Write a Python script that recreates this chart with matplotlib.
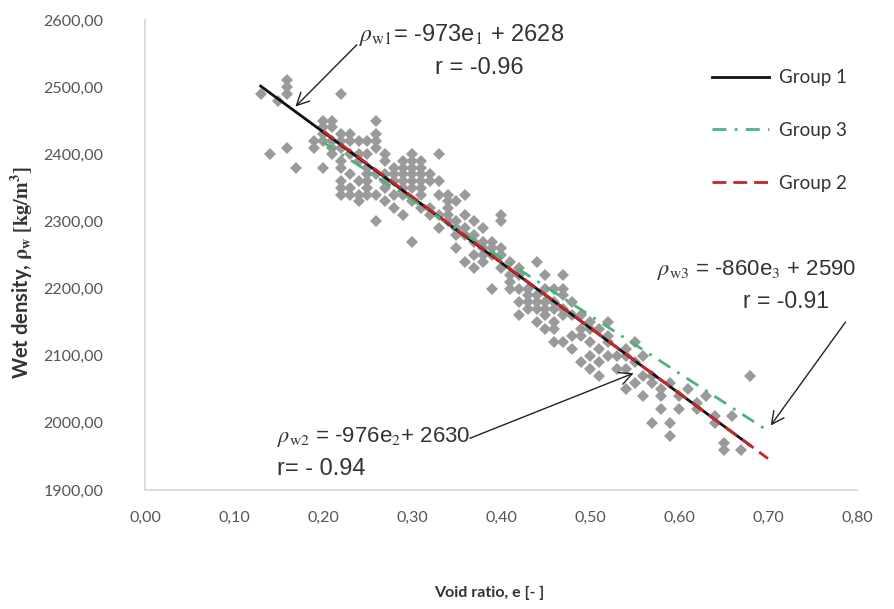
import matplotlib
matplotlib.use("Agg")
import matplotlib.pyplot as plt
import numpy as np

plt.rcParams['font.family'] = ['Lato', 'DejaVu Sans']
plt.rcParams['mathtext.fontset'] = 'stix'
plt.rcParams['lines.scale_dashes'] = False

# ---- scatter data (void ratio e, wet density) ----
void_ratio = [
    0.13, 0.14, 0.15, 0.16, 0.16, 0.16, 0.16, 0.17,
    0.19, 0.19,
    0.20, 0.20, 0.20, 0.20, 0.20,
    0.21, 0.21, 0.21, 0.21, 0.21,
    0.22, 0.22, 0.22, 0.22, 0.22, 0.22, 0.22, 0.22, 0.22,
    0.23, 0.23, 0.23, 0.23, 0.23, 0.23,
    0.24, 0.24, 0.24, 0.24, 0.24, 0.24,
    0.25, 0.25, 0.25, 0.25, 0.25, 0.25, 0.25,
    0.26, 0.26, 0.26, 0.26, 0.26, 0.26, 0.26,
    0.27, 0.27, 0.27, 0.27, 0.27, 0.27,
    0.28, 0.28, 0.28, 0.28, 0.28,
    0.29, 0.29, 0.29, 0.29, 0.29, 0.29, 0.29,
    0.30, 0.30, 0.30, 0.30, 0.30, 0.30, 0.30, 0.30,
    0.31, 0.31, 0.31, 0.31, 0.31, 0.31, 0.31,
    0.32, 0.32, 0.32, 0.32,
    0.33, 0.33, 0.33, 0.33, 0.33,
    0.34, 0.34, 0.34, 0.34, 0.34,
    0.35, 0.35, 0.35, 0.35, 0.35,
    0.36, 0.36, 0.36, 0.36, 0.36,
    0.37, 0.37, 0.37, 0.37, 0.37,
    0.38, 0.38, 0.38, 0.38, 0.38,
    0.39, 0.39, 0.39, 0.39,
    0.40, 0.40, 0.40, 0.40, 0.40,
    0.41, 0.41, 0.41, 0.41,
    0.42, 0.42, 0.42, 0.42, 0.42,
    0.43, 0.43, 0.43, 0.43,
    0.44, 0.44, 0.44, 0.44, 0.44,
    0.45, 0.45, 0.45, 0.45, 0.45, 0.45,
    0.46, 0.46, 0.46, 0.46, 0.46, 0.46,
    0.47, 0.47, 0.47, 0.47, 0.47, 0.47,
    0.48, 0.48, 0.48, 0.48,
    0.49, 0.49, 0.49, 0.49,
    0.50, 0.50, 0.50, 0.50, 0.50,
    0.51, 0.51, 0.51, 0.51,
    0.52, 0.52, 0.52, 0.52,
    0.53, 0.53,
    0.54, 0.54, 0.54, 0.54,
    0.55, 0.55, 0.55,
    0.56, 0.56, 0.56,
    0.57, 0.57, 0.57,
    0.58, 0.58, 0.58,
    0.59, 0.59, 0.59,
    0.60, 0.60,
    0.61,
    0.62, 0.62,
    0.63,
    0.64, 0.64,
    0.65, 0.65,
    0.66,
    0.67,
    0.68,
]
wet_density = [
    2490, 2400, 2480, 2510, 2500, 2490, 2410, 2380,
    2420, 2410,
    2450, 2440, 2430, 2420, 2380,
    2450, 2440, 2420, 2410, 2400,
    2490, 2430, 2420, 2410, 2390, 2380, 2360, 2350, 2340,
    2430, 2420, 2400, 2370, 2350, 2340,
    2420, 2400, 2390, 2360, 2340, 2330,
    2420, 2400, 2380, 2370, 2360, 2350, 2340,
    2450, 2430, 2420, 2410, 2370, 2340, 2300,
    2400, 2390, 2370, 2360, 2350, 2330,
    2380, 2370, 2360, 2340, 2320,
    2390, 2380, 2370, 2360, 2350, 2340, 2310,
    2400, 2390, 2380, 2370, 2360, 2350, 2330, 2270,
    2390, 2380, 2370, 2360, 2350, 2340, 2320,
    2370, 2360, 2320, 2310,
    2400, 2360, 2340, 2310, 2290,
    2340, 2330, 2320, 2310, 2300,
    2330, 2300, 2290, 2280, 2260,
    2340, 2310, 2290, 2280, 2240,
    2300, 2280, 2270, 2250, 2230,
    2290, 2270, 2260, 2250, 2240,
    2270, 2260, 2250, 2200,
    2310, 2300, 2260, 2250, 2230,
    2240, 2220, 2210, 2200,
    2230, 2220, 2200, 2180, 2160,
    2200, 2190, 2180, 2170,
    2240, 2190, 2180, 2170, 2150,
    2220, 2200, 2180, 2170, 2160, 2140,
    2200, 2180, 2170, 2150, 2140, 2120,
    2220, 2200, 2190, 2170, 2160, 2120,
    2180, 2160, 2130, 2110,
    2160, 2140, 2130, 2090,
    2150, 2140, 2120, 2100, 2080,
    2140, 2110, 2090, 2070,
    2150, 2130, 2120, 2100,
    2100, 2080,
    2110, 2100, 2080, 2050,
    2120, 2090, 2060,
    2100, 2070, 2040,
    2070, 2060, 2000,
    2050, 2040, 2020,
    2060, 2000, 1980,
    2040, 2020,
    2050,
    2030, 2020,
    2040,
    2010, 2000,
    1960, 1970,
    2010,
    1960,
    2070,
]

# ---- regression lines: rho = slope * e + intercept ----
group_names = ['Group 1', 'Group 3', 'Group 2']
group_slopes = [-973, -860, -976]
group_intercepts = [2628, 2590, 2630]
group_e_start = [0.13, 0.20, 0.20]
group_e_end = [0.68, 0.695, 0.70]

x_ticks = [0.0, 0.1, 0.2, 0.3, 0.4, 0.5, 0.6, 0.7, 0.8]
y_ticks = [1900, 2000, 2100, 2200, 2300, 2400, 2500, 2600]

fig = plt.figure(figsize=(8.95, 6.09), dpi=100)
ax = fig.add_axes([145/895, 1-490/609, (857-145)/895, (490-20)/609])

ax.plot(void_ratio, wet_density, linestyle='none', marker='D', markersize=5.8,
        color='#9a9a9a', markeredgewidth=0, zorder=2)

styles = [
    dict(color='#111111', linestyle='-', zorder=3),
    dict(color='#4DB37A', dashes=(10, 6, 2, 6), zorder=4),
    dict(color='#C8242B', dashes=(10, 5), zorder=5),
]
handles = []
for name, s, b, e0, e1, st in zip(group_names, group_slopes, group_intercepts,
                                   group_e_start, group_e_end, styles):
    ee = np.array([e0, e1])
    h, = ax.plot(ee, s * ee + b, linewidth=2.0, label=name, **st)
    handles.append(h)

ax.set_xlim(0, 0.8)
ax.set_ylim(1900, 2600)
ax.set_xticks(x_ticks)
ax.set_yticks(y_ticks)
ax.set_xticklabels([f"{v:.2f}".replace('.', ',') for v in x_ticks])
ax.set_yticklabels([f"{v:.2f}".replace('.', ',') for v in y_ticks])
ax.tick_params(axis='both', length=0, labelsize=11.5, colors='#555555')
ax.tick_params(axis='y', pad=30)
ax.tick_params(axis='x', pad=15)

for sp in ['top', 'right']:
    ax.spines[sp].set_visible(False)
for sp in ['left', 'bottom']:
    ax.spines[sp].set_color('#d6d6d6')
    ax.spines[sp].set_linewidth(1.2)

ax.set_xlabel('Void ratio, e [- ]', fontsize=11.5, fontweight='bold', color='#333333')
ax.xaxis.set_label_coords(0.484, -0.205)
ax.set_ylabel(r'Wet density, $\mathbf{\rho_w}$ $\mathbf{[kg/m^3]}$', fontsize=14.5,
              fontweight='bold', color='#333333')
ax.yaxis.set_label_coords(-0.155, 0.462)

leg = ax.legend(handles=handles, loc='upper left', bbox_to_anchor=(0.797, 0.895),
                frameon=False, fontsize=13.5, handlelength=3.0, handletextpad=0.55,
                labelspacing=1.9, borderpad=0, borderaxespad=0)
for t in leg.get_texts():
    t.set_color('#333333')

tc = '#333333'
ef = ['Liberation Sans', 'DejaVu Sans']
ax.text(0.240, 2578, r'$\rho_{\mathrm{w1}}$= -973e$_1$ + 2628', fontsize=17, color=tc,
        ha='left', va='center', family=ef)
ax.text(0.376, 2528, 'r = -0.96', fontsize=17, color=tc, ha='center', va='center', family=ef)
ax.text(0.575, 2227, r'$\rho_{\mathrm{w3}}$ = -860e$_3$ + 2590', fontsize=16, color=tc,
        ha='left', va='center', family=ef)
ax.text(0.72, 2181, 'r = -0.91', fontsize=16.5, color=tc, ha='center', va='center', family=ef)
ax.text(0.148, 1979, r'$\rho_{\mathrm{w2}}$ = -976e$_2$+ 2630', fontsize=16, color=tc,
        ha='left', va='center', family=ef)
ax.text(0.148, 1932, 'r= - 0.94', fontsize=17, color=tc, ha='left', va='center', family=ef)

ap = dict(arrowstyle='->,head_length=0.9,head_width=0.45', color='#222222', lw=1.0,
          shrinkA=0, shrinkB=0)
ax.annotate('', xy=(0.169, 2471), xytext=(0.238, 2563), arrowprops=ap)
ax.annotate('', xy=(0.703, 1996), xytext=(0.787, 2150), arrowprops=ap)
ax.annotate('', xy=(0.549, 2074), xytext=(0.365, 1977), arrowprops=ap)

fig.savefig('out.png', dpi=100)
